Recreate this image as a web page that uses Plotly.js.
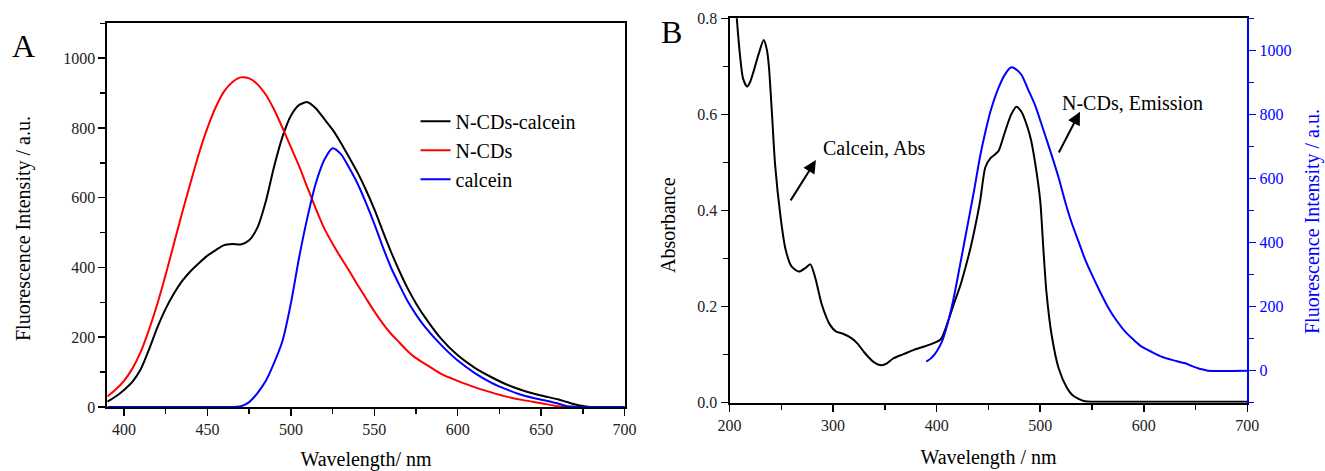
<!DOCTYPE html>
<html>
<head>
<meta charset="utf-8">
<script src="https://cdn.plot.ly/plotly-3.0.1.min.js"></script>
<style>html,body{margin:0;padding:0;background:#fff;}#chart{width:1325px;height:471px;}</style>
</head>
<body>
<div id="chart"></div>
<script>
// ---------- Panel A : fluorescence spectra ----------
const wlA = [390,395,400,405,410,415,420,425,430,435,440,445,450,455,460,465,470,475,480,485,490,495,500,505,510,515,520,525,530,535,540,545,550,555,560,565,570,575,580,590,600,610,620,630,640,650,660,665,670,675,680,690,700];
const ncdsCalcein = [15,30,49,72,108,165,228,282,326,362,390,413,434,450,464,467,466,478,515,590,690,775,835,866,874,856,826,795,757,715,672,622,567,505,445,390,340,297,260,196,148,113,86,63,46,33,22,15,8,3,0,0,0];
const ncds = [30,50,75,110,158,222,296,380,470,560,645,728,800,860,905,932,945,942,925,895,852,800,745,690,628,568,512,468,428,390,350,312,274,240,210,185,160,140,125,95,75,57,42,29,19,11,2,0,0,0,0,0,0];
const calcein = [0,0,0,0,0,0,0,0,0,0,0,0,0,0,0,0,2,14,40,75,127,190,297,430,545,642,708,742,725,685,640,585,525,460,400,350,303,265,232,178,133,98,70,49,32,21,10,3,1,0,0,0,0];

// ---------- Panel B : absorbance of calcein & emission of N-CDs ----------
const wlAbs = [200,205,207,210,213,217,220,223,228,233,236,238,241,244,249,254,260,267,273,278,283,289,297,303,309,318,324,330,339,347,352,358,368,378,388,397,404,412,417,423,428,433,438,442,447,452,456,460,466,472,477,482,487,491,495,500,503,506,511,518,526,531,537,543,550,600,650,700];
const absCalcein = [0.95,0.86,0.80,0.725,0.675,0.658,0.668,0.688,0.725,0.755,0.735,0.70,0.60,0.495,0.391,0.32,0.283,0.273,0.28,0.288,0.258,0.205,0.162,0.148,0.144,0.134,0.122,0.105,0.085,0.078,0.082,0.092,0.101,0.110,0.117,0.124,0.132,0.176,0.208,0.245,0.283,0.325,0.375,0.42,0.49,0.509,0.516,0.525,0.564,0.600,0.616,0.605,0.578,0.548,0.50,0.42,0.321,0.23,0.141,0.07,0.03,0.016,0.008,0.003,0.002,0.002,0.002,0.002];
const wlEm = [390,395,400,405,410,416,422,429,436,442,447,452,460,466,472,477,482,488,495,503,511,518,524,530,537,543,550,558,566,574,582,590,598,608,617,628,640,646,653,658,662,700];
const emNcds = [28,40,60,90,140,220,320,440,560,670,745,810,885,925,947,940,923,880,829,752,673,600,528,465,403,350,299,245,195,155,122,97,75,58,44,33,23,15,7,3,0,0];

const FONT = 'Liberation Serif, Times New Roman, serif';
const BLUE = '#0000ff';
const SM = 0.7;

const traces = [
  {x: wlA, y: ncdsCalcein, name: 'N-CDs-calcein', type: 'scatter', mode: 'lines', line: {color: '#000000', width: 2, shape: 'spline', smoothing: SM}, xaxis: 'x', yaxis: 'y'},
  {x: wlA, y: ncds, name: 'N-CDs', type: 'scatter', mode: 'lines', line: {color: '#ff0000', width: 2, shape: 'spline', smoothing: SM}, xaxis: 'x', yaxis: 'y'},
  {x: wlA, y: calcein, name: 'calcein', type: 'scatter', mode: 'lines', line: {color: BLUE, width: 2, shape: 'spline', smoothing: SM}, xaxis: 'x', yaxis: 'y'},
  {x: wlAbs, y: absCalcein, name: 'Calcein, Abs', type: 'scatter', mode: 'lines', line: {color: '#000000', width: 2, shape: 'spline', smoothing: SM}, xaxis: 'x2', yaxis: 'y2', showlegend: false},
  {x: wlEm, y: emNcds, name: 'N-CDs, Emission', type: 'scatter', mode: 'lines', line: {color: BLUE, width: 2, shape: 'spline', smoothing: SM}, xaxis: 'x2', yaxis: 'y3', showlegend: false}
];

const baseAxis = {
  showgrid: false, zeroline: false, showline: true, linecolor: '#000', linewidth: 2,
  ticks: 'outside', ticklen: 7, tickwidth: 1.5, tickcolor: '#000',
  tickfont: {family: FONT, size: 16, color: '#222'}, automargin: false
};

const layout = {
  width: 1325, height: 471,
  margin: {l: 0, r: 0, t: 0, b: 0},
  paper_bgcolor: '#fff', plot_bgcolor: '#fff',
  font: {family: FONT, color: '#000'},
  showlegend: true,
  legend: {x: 0.3136, y: 0.784, xanchor: 'left', yanchor: 'top', bgcolor: 'rgba(0,0,0,0)', font: {family: FONT, size: 20, color: '#000'}, tracegroupgap: 0, itemwidth: 30},
  xaxis: Object.assign({}, baseAxis, {
    domain: [0.081, 0.4714], range: [390, 700], anchor: 'y', mirror: true,
    tick0: 400, dtick: 50, minor: {dtick: 25, ticks: 'outside', ticklen: 5, tickcolor: '#000'},
    title: {text: 'Wavelength/ nm', font: {family: FONT, size: 20, color: '#000'}, standoff: 20}
  }),
  yaxis: Object.assign({}, baseAxis, {
    domain: [0.1359, 0.9505], range: [0, 1100], anchor: 'x', mirror: true,
    tick0: 0, dtick: 200, minor: {dtick: 100, ticks: 'outside', ticklen: 5, tickcolor: '#000'}
  }),
  xaxis2: Object.assign({}, baseAxis, {
    domain: [0.5506, 0.9414], range: [200, 700], anchor: 'y2', mirror: true,
    tick0: 200, dtick: 100, minor: {dtick: 50, ticks: 'outside', ticklen: 5, tickcolor: '#000'},
    title: {text: 'Wavelength / nm', font: {family: FONT, size: 20, color: '#000'}, standoff: 17}
  }),
  yaxis2: Object.assign({}, baseAxis, {
    domain: [0.145, 0.9611], range: [0, 0.8], anchor: 'x2', mirror: false,
    tick0: 0, dtick: 0.2, tickformat: '.1f', minor: {dtick: 0.1, ticks: 'outside', ticklen: 5, tickcolor: '#000'}
  }),
  yaxis3: Object.assign({}, baseAxis, {
    overlaying: 'y2', side: 'right', anchor: 'x2', range: [-100, 1100],
    linecolor: BLUE, tickcolor: BLUE, tickfont: {family: FONT, size: 16, color: BLUE},
    tick0: 0, dtick: 200, minor: {dtick: 100, ticks: 'outside', ticklen: 5, tickcolor: BLUE}
  }),
  annotations: [
    {text: 'A', xref: 'paper', yref: 'paper', x: 23 / 1325, y: 1 - 46 / 471, showarrow: false, xanchor: 'center', yanchor: 'middle', font: {family: FONT, size: 32, color: '#000'}},
    {text: 'B', xref: 'paper', yref: 'paper', x: 672 / 1325, y: 1 - 32 / 471, showarrow: false, xanchor: 'center', yanchor: 'middle', font: {family: FONT, size: 32, color: '#000'}},
    {text: 'Fluorescence Intensity / a.u.', xref: 'paper', yref: 'paper', x: 23 / 1325, y: 1 - 229 / 471, textangle: -90, showarrow: false, xanchor: 'center', yanchor: 'middle', font: {family: FONT, size: 20, color: '#000'}},
    {text: 'Absorbance', xref: 'paper', yref: 'paper', x: 668 / 1325, y: 1 - 225 / 471, textangle: -90, showarrow: false, xanchor: 'center', yanchor: 'middle', font: {family: FONT, size: 20, color: '#000'}},
    {text: 'Fluorescence Intensity / a.u.', xref: 'paper', yref: 'paper', x: 1312 / 1325, y: 1 - 222 / 471, textangle: -90, showarrow: false, xanchor: 'center', yanchor: 'middle', font: {family: FONT, size: 20, color: BLUE}},
    {text: 'Calcein, Abs', xref: 'paper', yref: 'paper', x: 821 / 1325, y: 1 - 148 / 471, showarrow: false, xanchor: 'left', yanchor: 'middle', font: {family: FONT, size: 20, color: '#000'}},
    {text: 'N-CDs, Emission', xref: 'paper', yref: 'paper', x: 1060 / 1325, y: 1 - 103 / 471, showarrow: false, xanchor: 'left', yanchor: 'middle', font: {family: FONT, size: 20, color: '#000'}},
    {text: '', xref: 'x2', yref: 'y2', x: 283.4, y: 0.505, axref: 'x2', ayref: 'y2', ax: 258.1, ay: 0.418, showarrow: true, arrowhead: 2, arrowsize: 1.3, arrowwidth: 2, arrowcolor: '#000', standoff: 0, startstandoff: 0},
    {text: '', xref: 'x2', yref: 'y2', x: 538.4, y: 0.6056, axref: 'x2', ayref: 'y2', ax: 517.2, ay: 0.5176, showarrow: true, arrowhead: 2, arrowsize: 1.3, arrowwidth: 2, arrowcolor: '#000', standoff: 0, startstandoff: 0}
  ]
};

Plotly.newPlot('chart', traces, layout, {staticPlot: true, displayModeBar: false});
</script>
</body>
</html>
